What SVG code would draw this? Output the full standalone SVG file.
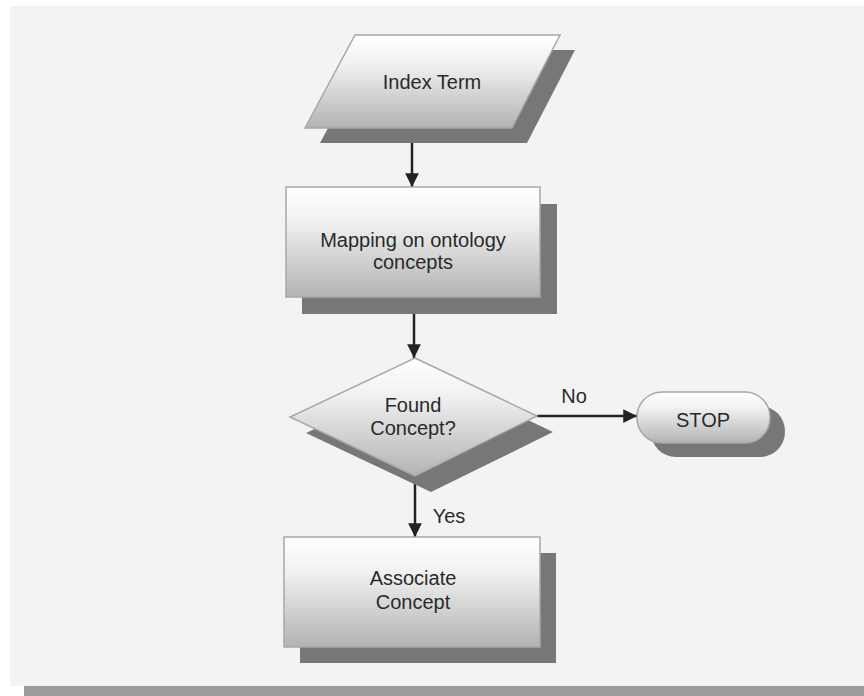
<svg xmlns="http://www.w3.org/2000/svg" width="864" height="696" viewBox="0 0 864 696">
<defs>
<linearGradient id="g" x1="0" y1="0" x2="0" y2="1">
<stop offset="0" stop-color="#ffffff"/>
<stop offset="0.3" stop-color="#f2f2f2"/>
<stop offset="1" stop-color="#b3b3b3"/>
</linearGradient>
<marker id="ah" viewBox="0 0 10 10" refX="10" refY="5" markerWidth="5.5" markerHeight="5.5" markerUnits="strokeWidth" orient="auto">
<path d="M0,0 L10,5 L0,10 z" fill="#222"/>
</marker>
</defs>
<style>
.node{fill:url(#g);stroke:#a8a8a8;stroke-width:1.5}
.sh{fill:#777777}
.t{font-family:"Liberation Sans",Arial,sans-serif;font-size:20px;fill:#2a2a2a;text-anchor:middle}
.c{stroke:#222;stroke-width:2.5;fill:none;marker-end:url(#ah)}
</style>
<rect x="0" y="0" width="864" height="696" fill="#ffffff"/>
<rect x="10" y="6" width="854" height="680" fill="#f3f3f3"/>
<rect x="24" y="686" width="840" height="10" fill="#9c9c9c"/>

<g id="connectors">
<line class="c" x1="412" y1="128" x2="412" y2="187"/>
<line class="c" x1="414" y1="297" x2="414" y2="358"/>
<line class="c" x1="537" y1="416" x2="637" y2="416"/>
<line class="c" x1="415" y1="476" x2="415" y2="537"/>
<text class="t" x="574" y="403">No</text>
<text class="t" x="449" y="523">Yes</text>
</g>

<g id="index-term">
<polygon class="sh" points="370,50 575,50 527,143 320,143"/>
<polygon class="node" points="355,35 560,35 512,128 305,128"/>
<text class="t" x="432" y="89">Index Term</text>
</g>

<g id="mapping">
<rect class="sh" x="302" y="204" width="255" height="110"/>
<rect class="node" x="286" y="187" width="254" height="110"/>
<text class="t" x="413" y="247">Mapping on ontology</text>
<text class="t" x="413" y="269">concepts</text>
</g>

<g id="found-concept">
<polygon class="sh" points="431,374 553,432 431,492 306,433"/>
<polygon class="node" points="415,358 537,416 415,476 290,417"/>
<text class="t" x="413" y="412">Found</text>
<text class="t" x="413" y="435">Concept?</text>
</g>

<g id="stop">
<rect class="sh" x="651" y="406" width="134" height="51" rx="25" ry="25"/>
<rect class="node" x="637" y="392" width="133" height="51" rx="25" ry="25"/>
<text class="t" x="703" y="427">STOP</text>
</g>

<g id="associate">
<rect class="sh" x="300" y="553" width="256" height="110"/>
<rect class="node" x="284" y="537" width="256" height="110"/>
<text class="t" x="413" y="585">Associate</text>
<text class="t" x="413" y="609">Concept</text>
</g>
</svg>
